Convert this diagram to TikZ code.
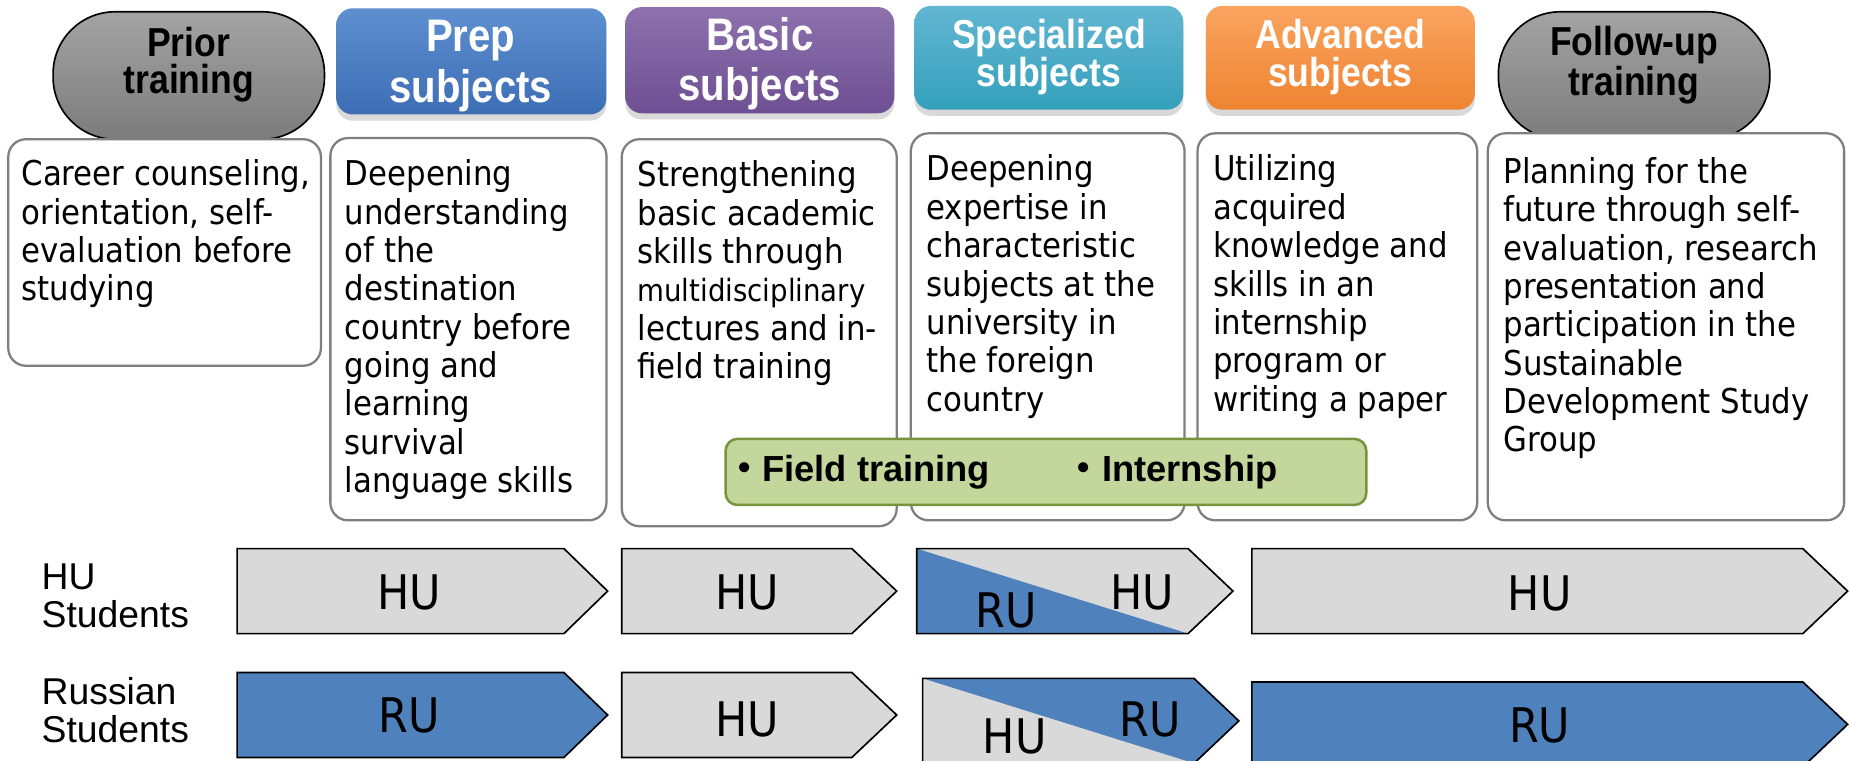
\documentclass[tikz,border=0pt]{standalone}
\usepackage{fontspec}
\setmainfont{DejaVu Sans Condensed}
\newfontfamily\headfont{Liberation Sans}
\newfontfamily\narrowfont{Liberation Sans}[FakeStretch=0.88]
\newfontfamily\cjk{Noto Sans CJK JP}
\usepackage{xcolor}
\usepackage{tikz}
\usetikzlibrary{
    calc,
    fit,
    positioning,
    shadows
}

\definecolor{ruBlue}{HTML}{4F81BD}
\definecolor{huGray}{HTML}{D9D9D9}
\definecolor{boxGray}{HTML}{7F7F7F}
\definecolor{fieldGreen}{HTML}{C3D69B}
\definecolor{fieldEdge}{HTML}{77933C}
\definecolor{pillTop}{HTML}{A3A3A3}
\definecolor{pillBot}{HTML}{7C7C7C}
\definecolor{prepTop}{HTML}{5E8FD0}
\definecolor{prepBot}{HTML}{3D6DB4}
\definecolor{basicTop}{HTML}{8D72AD}
\definecolor{basicBot}{HTML}{6E4F93}
\definecolor{specTop}{HTML}{62B6D1}
\definecolor{specBot}{HTML}{34A0BC}
\definecolor{advTop}{HTML}{FAA460}
\definecolor{advBot}{HTML}{EE8431}

\begin{document}
\begin{tikzpicture}[x=0.02cm, y=-0.02cm,
    pill/.style={draw=black, line width=0.8pt, rounded corners=1.05cm,
        top color=pillTop, bottom color=pillBot, inner sep=0pt},
    stagebox/.style={rounded corners=0.28cm, inner sep=0pt,
        drop shadow={shadow xshift=0pt, shadow yshift=-3pt, opacity=0.3}},
    headtext/.style={font=\narrowfont\bfseries\fontsize{22}{24.5}\selectfont,
        align=center, inner sep=0pt, text=white},
    subhead/.style={headtext, font=\narrowfont\bfseries\fontsize{19.5}{18.3}\selectfont},
    pilltext/.style={headtext, text=black,
        font=\narrowfont\bfseries\fontsize{19.5}{17.8}\selectfont},
    descbox/.style={draw=boxGray, line width=1.1pt, rounded corners=0.3cm,
        fill=white, inner sep=0pt},
    desctext/.style={font=\fontsize{16.5}{18.5}\selectfont, align=left,
        inner sep=0pt, anchor=north west},
    arrowbox/.style={draw=black, line width=0.8pt, line join=miter},
    unitext/.style={font=\fontsize{23}{26}\selectfont, inner sep=0pt},
    rowtext/.style={font=\headfont\fontsize{18}{18.7}\selectfont,
        align=left, inner sep=0pt, anchor=west}
]
\clip (0,0) rectangle (1568,645);

% Stage headers
\node[pill, fit={(45,10) (275,118)}] (prior) {};
\node[stagebox, top color=prepTop, bottom color=prepBot, fit={(285,7) (514,97)}] (prep) {};
\node[stagebox, top color=basicTop, bottom color=basicBot, fit={(530,6) (758,96)}] (basic) {};
\node[stagebox, top color=specTop, bottom color=specBot, fit={(775,5) (1003,93)}] (spec) {};
\node[stagebox, top color=advTop, bottom color=advBot, fit={(1022,5) (1250,93)}] (adv) {};
\node[pill, fit={(1270,10) (1500,118)}] (follow) {};

\node[pilltext] (priorT) at (160,55) {Prior\\training};
\node[headtext] (prepT) at (399,56) {Prep\\subjects};
\node[headtext] (basicT) at (644,54) {Basic\\subjects};
\node[subhead] (specT) at (889,48) {Specialized\\subjects};
\node[subhead] (advT) at (1136,48) {Advanced\\subjects};
\node[pilltext] (followT) at (1385,55) {Follow-up\\training};

% Description boxes
\node[descbox, fit={(7,118) (272,310)}] (d1) {};
\node[descbox, fit={(280,117) (514,441)}] (d2) {};
\node[descbox, fit={(527,118) (760,446)}] (d3) {};
\node[descbox, fit={(772,113) (1004,441)}] (d4) {};
\node[descbox, fit={(1015,113) (1252,441)}] (d5) {};
\node[descbox, fit={(1261,113) (1563,441)}] (d6) {};

\node[desctext] (t1) at (18,135) {Career counseling,\\orientation, self-\\evaluation before\\studying};
\node[desctext] (t2) at (292,135) {Deepening\\understanding\\of the\\destination\\country before\\going and\\learning\\survival\\language skills};
\node[desctext] (t3) at (540,136) {Strengthening\\basic academic\\skills through\\{\fontsize{14.8}{18.5}\selectfont multidisciplinary}\\lectures and in-\\field training};
\node[desctext] (t4) at (785,131) {Deepening\\expertise in\\characteristic\\subjects at the\\university in\\the foreign\\country};
\node[desctext] (t5) at (1028,131) {Utilizing\\acquired\\knowledge and\\skills in an\\internship\\program or\\writing a paper};
\node[desctext] (t6) at (1274,133) {Planning for the\\future through self-\\evaluation, research\\presentation and\\participation in the\\Sustainable\\Development Study\\Group};

% Field training / internship band
\node[draw=fieldEdge, fill=fieldGreen, line width=1.2pt, rounded corners=0.2cm,
    inner sep=0pt, fit={(615,372) (1158,428)}] (field) {};
\node[anchor=west, inner sep=0pt, font=\headfont\bfseries\fontsize{17.5}{18}\selectfont]
    (fieldT) at (615,400) {{\cjk ・}Field training};
\node[anchor=west, inner sep=0pt, font=\headfont\bfseries\fontsize{17.5}{18}\selectfont]
    (internT) at (903,400) {{\cjk ・}Internship};

% Student rows
\node[rowtext] (huRow) at (35,505) {HU\\Students};
\node[rowtext] (ruRow) at (35,602) {Russian\\Students};

% HU students
\draw[arrowbox, fill=huGray] (201,465) -- (478,465) -- (515,501) -- (478,537) -- (201,537) -- cycle;
\draw[arrowbox, fill=huGray] (527,465) -- (722,465) -- (760,501) -- (722,537) -- (527,537) -- cycle;
\fill[huGray] (777,465) -- (1007,465) -- (1045,501) -- (1007,537) -- (777,537) -- cycle;
\fill[ruBlue] (777,465) -- (1007,537) -- (777,537) -- cycle;
\draw[arrowbox] (777,465) -- (1007,465) -- (1045,501) -- (1007,537) -- (777,537) -- cycle;
\draw[arrowbox, fill=huGray] (1061,465) -- (1528,465) -- (1566,501) -- (1528,537) -- (1061,537) -- cycle;

\node[unitext] (hu1) at (347,502) {HU};
\node[unitext] (hu2) at (633,502) {HU};
\node[unitext] (ru3) at (853,517) {RU};
\node[unitext] (hu3) at (968,502) {HU};
\node[unitext] (hu4) at (1305,503) {HU};

% Russian students
\draw[arrowbox, fill=ruBlue] (201,570) -- (478,570) -- (515,606) -- (478,642) -- (201,642) -- cycle;
\draw[arrowbox, fill=huGray] (527,570) -- (722,570) -- (760,606) -- (722,642) -- (527,642) -- cycle;
\fill[ruBlue] (782,575) -- (1012,575) -- (1050,611) -- (1012,647) -- (782,647) -- cycle;
\fill[huGray] (782,575) -- (1012,647) -- (782,647) -- cycle;
\draw[arrowbox] (782,575) -- (1012,575) -- (1050,611) -- (1012,647) -- (782,647) -- cycle;
\draw[arrowbox, fill=ruBlue] (1061,578) -- (1528,578) -- (1566,614) -- (1528,650) -- (1061,650) -- cycle;

\node[unitext] (ru1) at (347,606) {RU};
\node[unitext] (hu5) at (633,610) {HU};
\node[unitext] (hu6) at (860,624) {HU};
\node[unitext] (ru6) at (975,610) {RU};
\node[unitext] (ru7) at (1305,615) {RU};
\end{tikzpicture}
\end{document}
